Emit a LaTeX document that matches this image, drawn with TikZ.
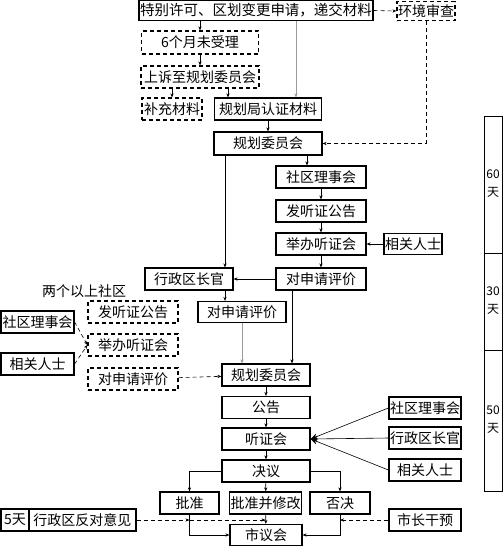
\documentclass[tikz,border=0pt]{standalone}
\usepackage{fontspec}
\newfontfamily\cjk{Noto Sans CJK SC}
\usepackage{tikz}
\usetikzlibrary{positioning, arrows.meta, calc}
\usepackage{xcolor}
\definecolor{flowgray}{HTML}{9A9A9A}

\begin{document}
\begin{tikzpicture}[x=1pt, y=-1pt,
    box/.style={draw, line width=1.2pt, inner sep=1pt, minimum height=22pt,
                font=\cjk\fontsize{14}{15}\selectfont},
    dbox/.style={box, dash pattern=on 4pt off 3pt},
    arr/.style={-{Stealth[length=4pt, width=3.2pt]}, line width=0.6pt},
    darr/.style={arr, dash pattern=on 4pt off 3pt},
    garr/.style={arr, draw=flowgray},
    bigarr/.style={-{Stealth[length=7pt, width=6pt]}, line width=0.6pt}]
  \useasboundingbox (0,0) rectangle (503,547);

  % application stage
  \node[box, minimum width=230pt, minimum height=20pt,
        font=\cjk\fontsize{14.5}{15}\selectfont] (apply) at (256,10.5) {特别许可、区划变更申请，递交材料};
  \node[dbox, minimum width=58pt, minimum height=19pt] (env) at (426,11) {环境审查};
  \node[dbox, minimum width=117pt, minimum height=23pt] (wait) at (200,42.5) {6个月未受理};
  \node[dbox, minimum width=118pt] (appeal) at (200,77) {上诉至规划委员会};
  \node[dbox, minimum width=60pt] (supply) at (172,109) {补充材料};
  \node[box, minimum width=107pt] (cert) at (268,109) {规划局认证材料};
  \node[box, minimum width=108pt, minimum height=23pt] (plana) at (268,143.5) {规划委员会};

  % community board, 60 days
  \node[box, minimum width=90pt] (board) at (321,177) {社区理事会};
  \node[box, minimum width=90pt] (notice) at (321,211) {发听证公告};
  \node[box, minimum width=90pt] (hold) at (321,244) {举办听证会};
  \node[box, minimum width=90pt] (evala) at (321,279) {对申请评价};
  \node[box, minimum width=48pt, minimum height=21pt] (peoplea) at (413,244) {相关人士};

  % borough president, 30 days
  \node[box, minimum width=88pt] (chiefa) at (189,279) {行政区长官};
  \node[box, minimum width=88pt, minimum height=21pt] (evalb) at (242,312) {对申请评价};
  \node[font=\cjk\fontsize{14}{15}\selectfont] (multi) at (84,291) {两个以上社区};
  \node[dbox, minimum width=90pt] (lnotice) at (133,312) {发听证公告};
  \node[dbox, minimum width=90pt] (lhold) at (133,345) {举办听证会};
  \node[dbox, minimum width=90pt] (leval) at (133,379) {对申请评价};
  \node[box, minimum width=73pt] (lboard) at (37.5,322) {社区理事会};
  \node[box, minimum width=73pt] (lpeople) at (37.5,364) {相关人士};

  % planning commission, 50 days
  \node[box, minimum width=88pt] (planb) at (266,375) {规划委员会};
  \node[box, minimum width=88pt] (announce) at (266,407.5) {公告};
  \node[box, minimum width=88pt] (hearing) at (266,439) {听证会};
  \node[box, minimum width=88pt] (decide) at (266,471) {决议};
  \node[box, minimum width=72pt] (rboard) at (425,408) {社区理事会};
  \node[box, minimum width=72pt] (rchief) at (425,438) {行政区长官};
  \node[box, minimum width=72pt] (rpeople) at (425,470) {相关人士};
  \node[box, minimum width=59pt] (approve) at (189.5,503) {批准};
  \node[box, minimum width=72pt] (amend) at (265.5,503) {批准并修改};
  \node[box, minimum width=60pt] (reject) at (340,503) {否决};
  \node[box, minimum width=72pt, minimum height=21pt] (city) at (266,535) {市议会};
  \node[box, minimum width=28pt, inner sep=0pt] (fivedays) at (15,520) {5天};
  \node[box, minimum width=107pt] (oppose) at (82.5,520) {行政区反对意见};
  \node[box, minimum width=72pt] (mayor) at (425,520) {市长干预};

  % time scale
  \draw[line width=0.8pt] (484,116) rectangle (502.5,491);
  \draw[line width=0.8pt] (484,253) -- (502.5,253) (484,350) -- (502.5,350);
  \node[font=\cjk\fontsize{12}{18}\selectfont, align=center] (sixty) at (493,184) {60\\天};
  \node[font=\cjk\fontsize{12}{18}\selectfont, align=center] (thirty) at (493,301) {30\\天};
  \node[font=\cjk\fontsize{12}{18}\selectfont, align=center] (fifty) at (493,420) {50\\天};

  % connectors
  \draw[darr] (apply.east) -- (env.west);
  \draw[arr] (apply.south -| wait.north) -- (wait.north);
  \draw[arr] (wait) -- (appeal);
  \draw[arr] (appeal.south -| supply.north) -- (supply.north);
  \draw[arr] ([xshift=28pt]appeal.south) -- ([xshift=28pt]appeal.south |- cert.north);
  \draw[garr] ([xshift=40pt]apply.south) -- ([xshift=40pt]apply.south |- cert.north);
  \draw[arr] (cert) -- (plana);
  \draw[darr] (env.south) |- (plana.east);
  \draw[arr] ([xshift=39pt]plana.south) -- ([xshift=39pt]plana.south |- board.north);
  \draw[arr] (board) -- (notice);
  \draw[arr] (notice) -- (hold);
  \draw[arr] (hold) -- (evala);
  \draw[arr] (peoplea) -- (hold);
  \draw[arr] (evala) -- (chiefa);
  \draw[arr] ([xshift=-43pt]plana.south) -- ([xshift=-43pt]plana.south |- chiefa.north);
  \draw[arr] ([xshift=36pt]chiefa.south) -- ([xshift=36pt]chiefa.south |- evalb.north);
  \draw[garr] (evalb.south) -- (evalb.south |- planb.north);
  \draw[arr] ([xshift=-29pt]evala.south) -- ([xshift=-29pt]evala.south |- planb.north);
  \draw[darr] (lboard.east) -- (lhold.west);
  \draw[darr] (lpeople.east) -- (lhold.west);
  \draw[darr] (leval) -- (planb);
  \draw[arr] (planb) -- (announce);
  \draw[arr] (announce) -- (hearing);
  \draw[arr] (hearing) -- (decide);
  \draw[bigarr] (rboard.west) -- (hearing.east);
  \draw[bigarr] (rchief.west) -- (hearing.east);
  \draw[bigarr] (rpeople.west) -- (hearing.east);
  \draw[arr] (decide.west) -| (approve.north);
  \draw[arr] (decide) -- (amend);
  \draw[arr] (decide.east) -| (reject.north);
  \draw[arr] (approve.south) |- (city.west);
  \draw[arr] (amend) -- (city);
  \draw[arr] (reject.south) |- (city.east);
  \coordinate (vetoa) at (approve.south |- oppose.east);
  \coordinate (vetob) at (amend.south |- oppose.east);
  \draw[darr] (oppose.east) -- (vetoa);
  \draw[darr] (vetoa) -- (vetob);
  \draw[darr] (mayor.west) -- (reject.south |- mayor.west);
\end{tikzpicture}
\end{document}
